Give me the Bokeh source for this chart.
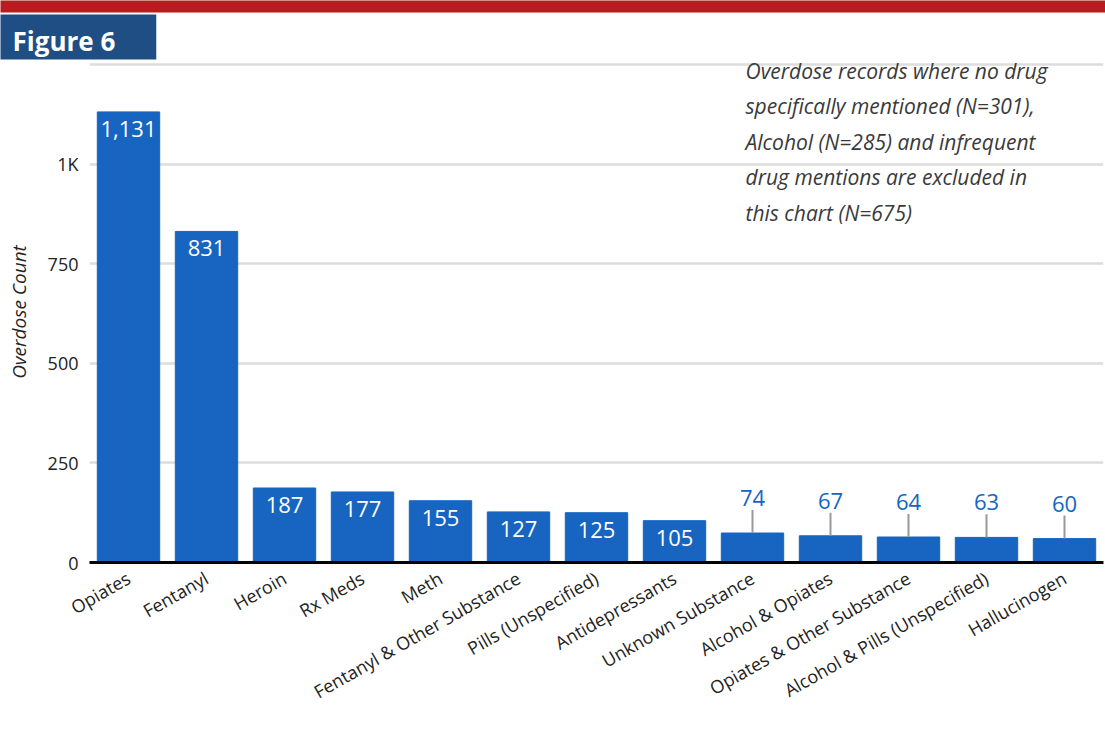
from bokeh.plotting import figure
from bokeh.models import (ColumnDataSource, FixedTicker, Label, Range1d, FactorRange, Title)
from bokeh.core.properties import value
from bokeh.embed import file_html
from bokeh.resources import INLINE

# ---- data ----
categories = ["Opiates", "Fentanyl", "Heroin", "Rx Meds", "Meth",
              "Fentanyl & Other Substance", "Pills (Unspecified)",
              "Antidepressants", "Unknown Substance", "Alcohol & Opiates",
              "Opiates & Other Substance", "Alcohol & Pills (Unspecified)",
              "Hallucinogen"]
counts = [1131, 831, 187, 177, 155, 127, 125, 105, 74, 67, 64, 63, 60]
y_ticks = [0, 250, 500, 750, 1000, 1250]
y_tick_labels = {1000: "1K", 1250: ""}
title_text = "Figure 6"
note_lines = ["Overdose records where no drug",
              "specifically mentioned (N=301),",
              "Alcohol (N=285) and infrequent",
              "drug  mentions are excluded in",
              "this chart (N=675)"]
y_label = "Overdose Count"

BAR = "#1765C1"
FONT = "Open Sans"

p = figure(x_range=FactorRange(*categories), y_range=Range1d(0, 1257.5),
           width=1105, height=735, output_backend="svg", toolbar_location=None,
           min_border_left=89, min_border_right=2, min_border_top=61,
           min_border_bottom=173)
p.outline_line_color = None
p.background_fill_color = "white"
p.border_fill_color = "white"

p.vbar(x=categories, top=counts, width=0.8, color=BAR)

# inside labels (large bars)
big = [(c, v) for c, v in zip(categories, counts) if v >= 100]
small = [(c, v) for c, v in zip(categories, counts) if v < 100]
src_big = ColumnDataSource(dict(x=[c for c, _ in big], y=[v for _, v in big],
                                t=[f"{v:,}" for _, v in big]))
p.text(x="x", y="y", text="t", source=src_big, y_offset=17,
       text_align="center", text_baseline="middle", text_color="white",
       text_font_size="22px", text_font=value(FONT))

# outside labels with leader lines (small bars)
src_small = ColumnDataSource(dict(x=[c for c, _ in small], y=[v for _, v in small],
                                  y1=[v + 58 for _, v in small],
                                  t=[f"{v:,}" for _, v in small]))
p.segment(x0="x", x1="x", y0="y", y1="y1", source=src_small,
          line_color="#999999", line_width=2)
p.text(x="x", y="y", text="t", source=src_small, y_offset=-35,
       text_align="center", text_baseline="middle", text_color="#1565C0",
       text_font_size="22px", text_font=value(FONT))

# axes
p.xgrid.grid_line_color = None
p.ygrid.grid_line_color = "#DDDDDD"
p.ygrid.grid_line_width = 2.5
p.yaxis.ticker = FixedTicker(ticks=y_ticks)
p.yaxis.major_label_overrides = y_tick_labels
p.yaxis.axis_line_color = None
p.yaxis.major_tick_line_color = None
p.yaxis.minor_tick_line_color = None
p.yaxis.major_tick_out = 0
p.yaxis.minor_tick_out = 0
p.yaxis.major_label_standoff = 11
p.yaxis.major_label_text_font = FONT
p.yaxis.major_label_text_font_size = "18px"
p.yaxis.major_label_text_color = "#222222"
p.yaxis.axis_label = y_label
p.yaxis.axis_label_text_font = FONT
p.yaxis.axis_label_text_font_style = "italic"
p.yaxis.axis_label_text_font_size = "19px"
p.yaxis.axis_label_text_color = "#222222"
p.yaxis.axis_label_standoff = 13

p.xaxis.axis_line_color = "black"
p.xaxis.axis_line_width = 3
p.xaxis.major_tick_line_color = None
p.xaxis.minor_tick_line_color = None
p.xaxis.major_label_orientation = 0.52
p.xaxis.major_label_standoff = 8
p.xaxis.major_label_text_font = FONT
p.xaxis.major_label_text_font_size = "18px"
p.xaxis.major_label_text_color = "#222222"

# header: figure tag box and red band as titles (outside the frame)
p.add_layout(Title(text=title_text, align="left", offset=-89, standoff=0,
                   text_color="white", text_font=FONT, text_font_style="bold",
                   text_font_size="26px", vertical_align="top",
                   background_fill_color="#1F4E85",
                   padding=dict(left=12, right=41, top=8, bottom=1)), "above")
p.add_layout(Title(text=" ", align="left", offset=-89, standoff=0,
                   text_font_size="1px", vertical_align="top",
                   background_fill_color="#B71D1E",
                   padding=dict(left=0, right=1105, top=11, bottom=0)), "above")

for i, line in enumerate(note_lines):
    p.add_layout(Label(x=656, y=492 - 35.5 * i, x_units="screen", y_units="screen",
                       text=line, text_color="#3A3A3A", text_font=FONT,
                       text_font_style="italic", text_font_size="21px",
                       text_baseline="middle", text_align="left"))

open("out.html", "w").write(file_html(p, INLINE))
